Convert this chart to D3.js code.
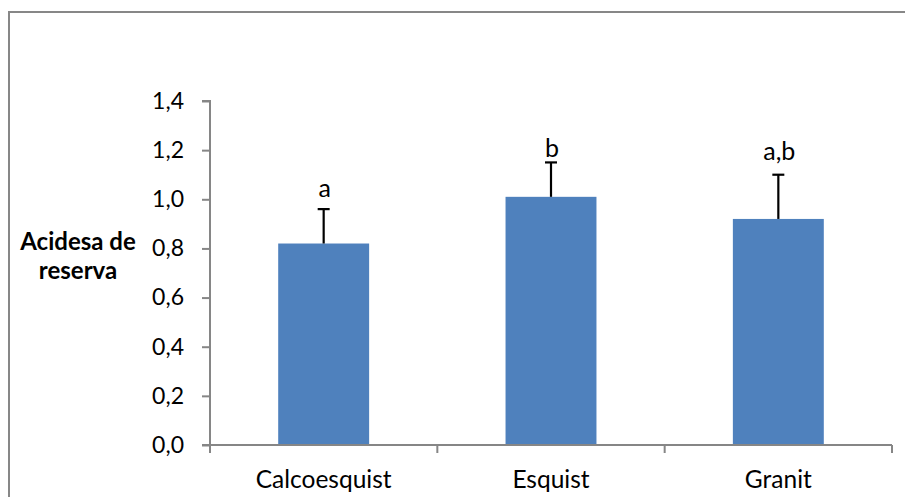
<!DOCTYPE html>
<html>
<head>
<meta charset="utf-8">
<script src="https://cdn.jsdelivr.net/npm/d3@7"></script>
<style>
  html, body { margin: 0; padding: 0; background: #fff; }
  svg { display: block; }
  text { font-family: Lato, "Open Sans", sans-serif; fill: #000; }
</style>
</head>
<body>
<script>
const categories = ["Calcoesquist", "Esquist", "Granit"];
const means = [0.82, 1.01, 0.92];
const errors = [0.14, 0.14, 0.18];
const letters = ["a", "b", "a,b"];
const letterAt = [1.008, 1.173, 1.160];
const yTicks = [0, 0.2, 0.4, 0.6, 0.8, 1.0, 1.2, 1.4];
const yTitle = ["Acidesa de", "reserva"];

const W = 905, H = 497;
const svg = d3.select("body").append("svg").attr("width", W).attr("height", H);

// outer chart border
svg.append("rect")
  .attr("x", 9).attr("y", 12).attr("width", W + 10).attr("height", H + 10)
  .attr("fill", "none").attr("stroke", "#878787").attr("stroke-width", 2);

const x = d3.scaleBand().domain(categories).range([210, 892]).paddingInner(0.6).paddingOuter(0.3);
const y = d3.scaleLinear().domain([0, 1.4]).range([445, 101]);

const axisColor = "#868686";

// bars
svg.selectAll("rect.bar").data(categories).enter().append("rect")
  .attr("class", "bar")
  .attr("x", d => x(d))
  .attr("width", x.bandwidth())
  .attr("y", (d, i) => y(means[i]))
  .attr("height", (d, i) => y(0) - y(means[i]))
  .attr("fill", "#4F81BD");

// y axis
const yAxis = d3.axisLeft(y).tickValues(yTicks).tickSize(8).tickPadding(18)
  .tickFormat(d => d3.format(".1f")(d).replace(".", ","));
const gy = svg.append("g").attr("transform", "translate(210,0)").call(yAxis);
gy.select(".domain").attr("stroke", axisColor).attr("stroke-width", 2).attr("d", "M-8,101H0V445H-8");
gy.selectAll(".tick line").attr("stroke", axisColor).attr("stroke-width", 2);
gy.selectAll(".tick text").attr("font-size", 23).attr("font-family", "Lato").attr("fill", "#000");

// x axis
const band = (892 - 210) / categories.length;
const xTickPos = d3.range(categories.length + 1).map(i => 210 + i * band);
const gx = svg.append("g");
gx.append("line").attr("x1", 210).attr("x2", 892).attr("y1", 445).attr("y2", 445)
  .attr("stroke", axisColor).attr("stroke-width", 2);
gx.selectAll("line.xt").data(xTickPos).enter().append("line")
  .attr("x1", d => d).attr("x2", d => d).attr("y1", 445).attr("y2", 453)
  .attr("stroke", axisColor).attr("stroke-width", 2);
gx.selectAll("text.cat").data(categories).enter().append("text")
  .attr("x", d => x(d) + x.bandwidth() / 2)
  .attr("y", 488)
  .attr("text-anchor", "middle")
  .attr("font-size", 24.5)
  .text(d => d);

// error bars
const eb = svg.append("g").attr("stroke", "#000").attr("stroke-width", 2.2);
categories.forEach((c, i) => {
  const cx = x(c) + x.bandwidth() / 2;
  eb.append("line").attr("x1", cx).attr("x2", cx)
    .attr("y1", y(means[i])).attr("y2", y(means[i] + errors[i]));
  eb.append("line").attr("x1", cx - 6).attr("x2", cx + 6)
    .attr("y1", y(means[i] + errors[i])).attr("y2", y(means[i] + errors[i]));
});

// significance letters
svg.selectAll("text.sig").data(categories).enter().append("text")
  .attr("x", d => x(d) + x.bandwidth() / 2 + 1)
  .attr("y", (d, i) => y(letterAt[i]))
  .attr("text-anchor", "middle")
  .attr("font-size", 25)
  .text((d, i) => letters[i]);

// y title
const yt = svg.append("text").attr("text-anchor", "middle").attr("font-size", 24).attr("font-weight", "bold");
yTitle.forEach((t, i) => {
  yt.append("tspan").attr("x", 78).attr("y", 250 + i * 29).text(t);
});
</script>
</body>
</html>
